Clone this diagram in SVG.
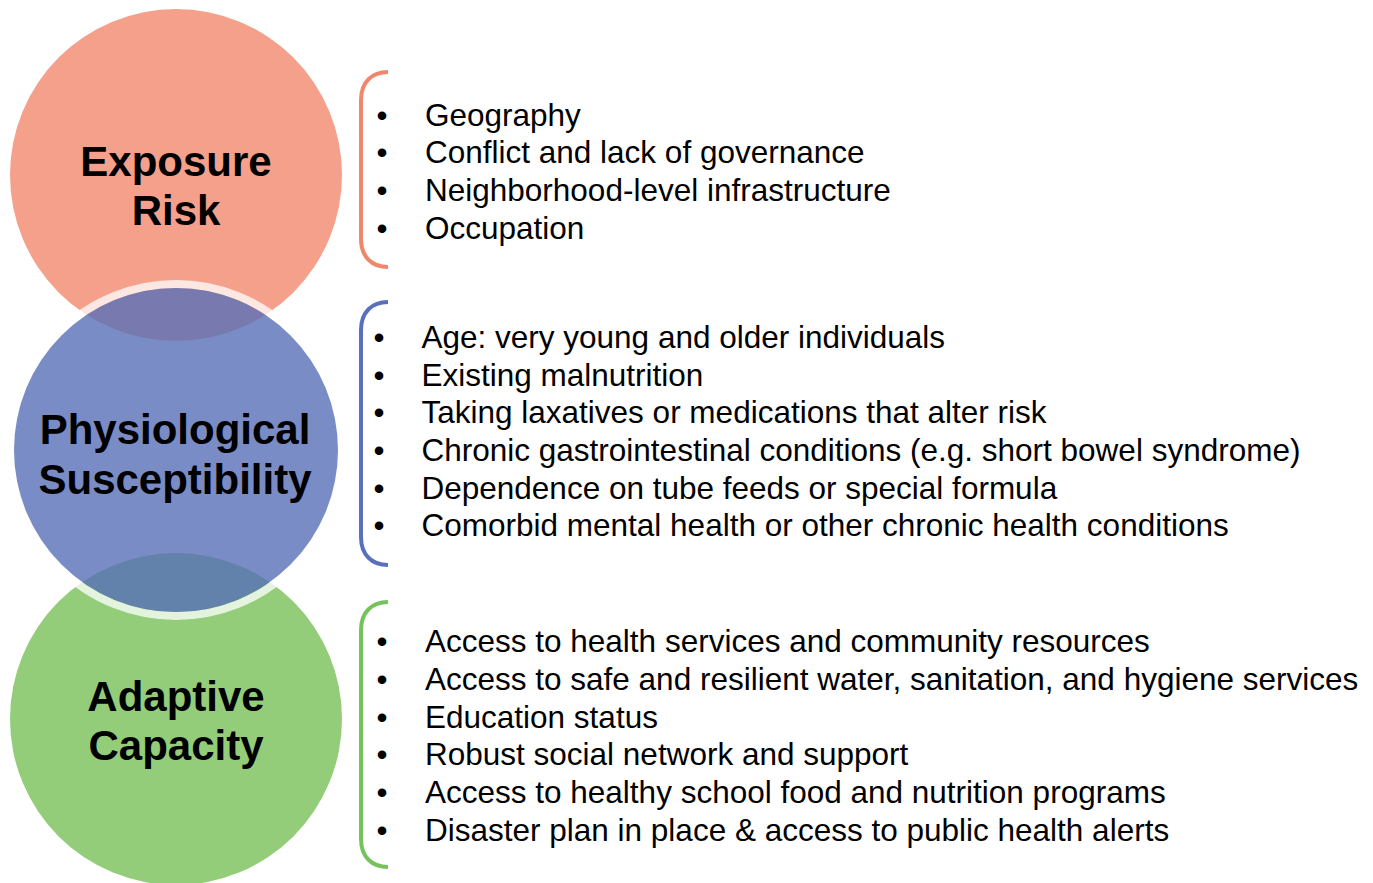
<svg xmlns="http://www.w3.org/2000/svg" width="1373" height="883" viewBox="0 0 1373 883">
  <style>
    .label { font-family: "Liberation Sans", Arial, sans-serif; font-weight: bold; font-size: 42px; fill: #000; text-anchor: middle; }
    .item { font-family: "Liberation Sans", Arial, sans-serif; font-size: 31.5px; fill: #000; }
    .dot { font-family: "Liberation Sans", Arial, sans-serif; font-size: 31.5px; fill: #000; text-anchor: middle; }
    .bracket { fill: none; stroke-width: 4; stroke-linecap: butt; }
  </style>
  <rect width="1373" height="883" fill="#ffffff"/>

  <!-- Exposure risk circle -->
  <g id="node-exposure">
    <circle cx="176" cy="175" r="166" fill="#F4A08A"/>
  </g>

  <!-- Adaptive capacity circle -->
  <g id="node-adaptive">
    <circle cx="176" cy="719" r="166" fill="#93CD79"/>
  </g>

  <!-- Physiological susceptibility circle: translucent fill with a light halo -->
  <g id="node-physiological">
    <circle cx="176" cy="450" r="166" fill="none" stroke="#ffffff" stroke-opacity="0.75" stroke-width="8"/>
    <circle cx="176" cy="450" r="162" fill="#586FB8" fill-opacity="0.8"/>
  </g>

  <!-- Circle titles -->
  <g id="labels">
    <text class="label" x="176" y="176">Exposure</text>
    <text class="label" x="176" y="225">Risk</text>
    <text class="label" x="175" y="444">Physiological</text>
    <text class="label" x="175" y="494">Susceptibility</text>
    <text class="label" x="176" y="711">Adaptive</text>
    <text class="label" x="176" y="760">Capacity</text>
  </g>

  <!-- Brackets linking each circle to its list -->
  <g id="connectors">
    <path class="bracket" stroke="#F0876A" d="M388,72 C372,72 361,82 361,100 L361,239 C361,257 372,267 388,267"/>
    <path class="bracket" stroke="#5A70BC" d="M388,302 C372,302 361,312 361,330 L361,537 C361,555 372,565 388,565"/>
    <path class="bracket" stroke="#76C35C" d="M388,602 C372,602 361,612 361,630 L361,839 C361,857 372,867 388,867"/>
  </g>

  <!-- Exposure risk factors -->
  <g id="list-exposure">
    <text class="dot" x="382" y="125.5">•</text>
    <text class="dot" x="382" y="163.3">•</text>
    <text class="dot" x="382" y="201">•</text>
    <text class="dot" x="382" y="238.8">•</text>
    <text class="item" x="425" y="125.5">Geography</text>
    <text class="item" x="425" y="163.3">Conflict and lack of governance</text>
    <text class="item" x="425" y="201">Neighborhood-level infrastructure</text>
    <text class="item" x="425" y="238.8">Occupation</text>
  </g>

  <!-- Physiological susceptibility factors -->
  <g id="list-physiological">
    <text class="dot" x="379" y="348">•</text>
    <text class="dot" x="379" y="385.7">•</text>
    <text class="dot" x="379" y="423.4">•</text>
    <text class="dot" x="379" y="461">•</text>
    <text class="dot" x="379" y="498.7">•</text>
    <text class="dot" x="379" y="536.4">•</text>
    <text class="item" x="421.5" y="348">Age: very young and older individuals</text>
    <text class="item" x="421.5" y="385.7">Existing malnutrition</text>
    <text class="item" x="421.5" y="423.4">Taking laxatives or medications that alter risk</text>
    <text class="item" x="421.5" y="461">Chronic gastrointestinal conditions (e.g. short bowel syndrome)</text>
    <text class="item" x="421.5" y="498.7">Dependence on tube feeds or special formula</text>
    <text class="item" x="421.5" y="536.4">Comorbid mental health or other chronic health conditions</text>
  </g>

  <!-- Adaptive capacity factors -->
  <g id="list-adaptive">
    <text class="dot" x="382" y="652">•</text>
    <text class="dot" x="382" y="689.8">•</text>
    <text class="dot" x="382" y="727.6">•</text>
    <text class="dot" x="382" y="765.4">•</text>
    <text class="dot" x="382" y="803.2">•</text>
    <text class="dot" x="382" y="841">•</text>
    <text class="item" x="425" y="652">Access to health services and community resources</text>
    <text class="item" x="425" y="689.8">Access to safe and resilient water, sanitation, and hygiene services</text>
    <text class="item" x="425" y="727.6">Education status</text>
    <text class="item" x="425" y="765.4">Robust social network and support</text>
    <text class="item" x="425" y="803.2">Access to healthy school food and nutrition programs</text>
    <text class="item" x="425" y="841">Disaster plan in place &amp; access to public health alerts</text>
  </g>
</svg>
